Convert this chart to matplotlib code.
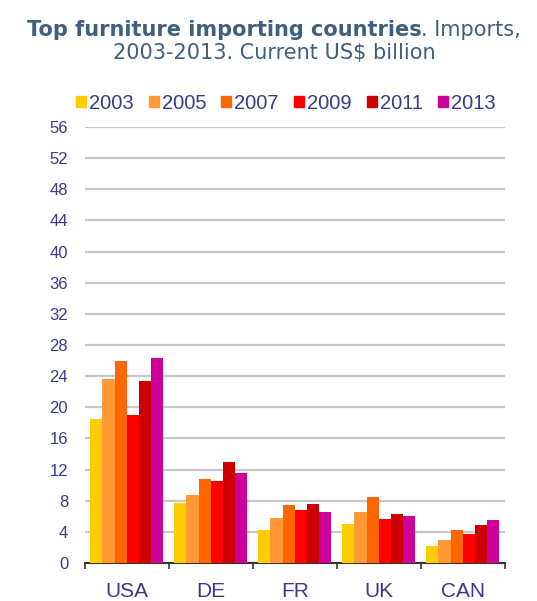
import matplotlib.pyplot as plt
from matplotlib.patches import Patch
import numpy as np

countries = ["USA", "DE", "FR", "UK", "CAN"]
years = ["2003", "2005", "2007", "2009", "2011", "2013"]
colors = ["#FFCC00", "#FF9933", "#FF6600", "#FF0000", "#CC0000", "#CC0099"]

imports = {
    "2003": [18.5, 7.7, 4.2, 5.0, 2.2],
    "2005": [23.6, 8.7, 5.8, 6.6, 3.0],
    "2007": [26.0, 10.8, 7.4, 8.5, 4.2],
    "2009": [19.0, 10.5, 6.8, 5.7, 3.7],
    "2011": [23.4, 13.0, 7.6, 6.3, 4.9],
    "2013": [26.3, 11.6, 6.6, 6.0, 5.5],
}

text_blue = "#3a3a8c"
title_col = "#3f5f7f"

fig = plt.figure(figsize=(5.37, 6.01), dpi=100)
ax = fig.add_axes([0.158, 0.0632, 0.782, 0.7255])

x = np.arange(len(countries))
n = len(years)
w = 0.87 / n
for i, (yr, c) in enumerate(zip(years, colors)):
    ax.bar(x + (i - (n - 1) / 2) * w, imports[yr], width=w, color=c, zorder=3)

ax.set_xlim(-0.5, 4.5)
ax.set_ylim(0, 56)
ax.set_yticks(np.arange(0, 57, 4))
ax.yaxis.grid(True, color="#c8c8c8", linewidth=1.6, zorder=0)
ax.tick_params(axis="y", length=0, pad=12, labelsize=12, labelcolor=text_blue)
ax.set_xticks(x)
ax.set_xticklabels(countries, fontsize=15)
ax.set_xticks(np.arange(-0.5, 5, 1), minor=True)
ax.tick_params(axis="x", which="major", length=0, pad=14, labelcolor=text_blue)
ax.tick_params(axis="x", which="minor", length=4, width=1.2, color="#333333")
for lab in ax.get_yticklabels() + ax.get_xticklabels():
    lab.set_family("Liberation Sans")
for s in ["top", "right", "left"]:
    ax.spines[s].set_visible(False)
ax.spines["bottom"].set_color("#333333")
ax.spines["bottom"].set_linewidth(1.5)

handles = [Patch(color=c, label=y) for y, c in zip(years, colors)]
leg = fig.legend(handles=handles, ncol=6, loc="center", bbox_to_anchor=(0.532, 0.828),
                 frameon=False, handlelength=0.5, handleheight=0.5,
                 handletextpad=0.15, columnspacing=0.75,
                 prop={"family": "Liberation Sans", "size": 14.5})
for t in leg.get_texts():
    t.set_color(text_blue)

# title line 1: bold part + regular part, centred together
fs = 15
t1 = fig.text(0, 0.95, "Top furniture importing countries", fontsize=fs,
              fontweight="bold", color=title_col, ha="left", va="center")
t2 = fig.text(0, 0.95, ". Imports,", fontsize=fs, color=title_col,
              ha="left", va="center")
r = fig.canvas.get_renderer()
w1 = t1.get_window_extent(r).width / fig.bbox.width
w2 = t2.get_window_extent(r).width / fig.bbox.width
x0 = 0.51 - (w1 + w2) / 2
t1.set_x(x0)
t2.set_x(x0 + w1)
fig.text(0.51, 0.912, "2003-2013. Current US$ billion", fontsize=fs,
         color=title_col, ha="center", va="center")

fig.savefig("out.png", dpi=100)
